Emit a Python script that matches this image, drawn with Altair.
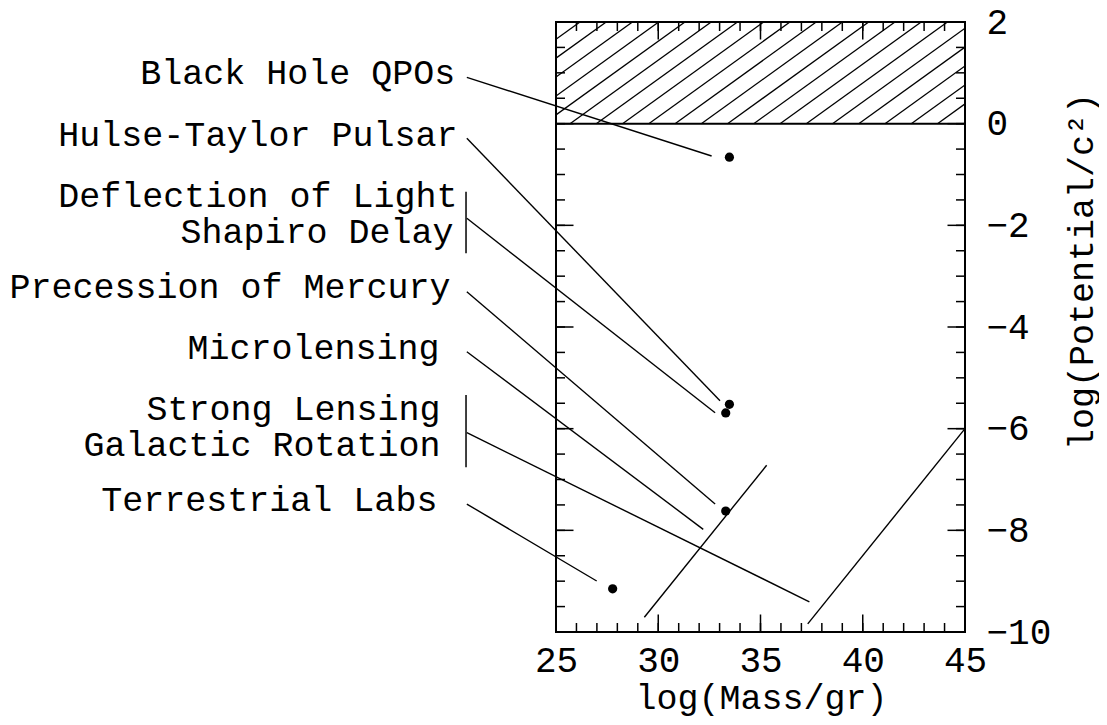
import altair as alt
import numpy as np
import pandas as pd

FONT = "Liberation Mono"
W, H = 409, 610

# ---- data ----
labels = ["Black Hole QPOs", "Hulse-Taylor Pulsar", "Deflection of Light", "Shapiro Delay",
          "Precession of Mercury", "Microlensing", "Strong Lensing", "Galactic Rotation",
          "Terrestrial Labs"]
label_x = [20.08, 20.18, 20.18, 19.99, 19.84, 19.30, 19.35, 19.35, 19.20]
label_y = [0.774, -0.44, -1.634, -2.354, -3.436, -4.636, -5.83, -6.538, -7.614]

pt_mass = [33.48, 33.48, 33.30, 33.30, 27.77]
pt_pot = [-0.66, -5.52, -5.69, -7.62, -9.15]

lead_x1 = [20.64, 20.64, 20.64, 20.64, 20.64, 20.64, 20.64]
lead_y1 = [0.912, -0.288, -1.862, -3.306, -4.486, -6.08, -7.483]
lead_x2 = [32.61, 33.02, 32.78, 32.78, 32.20, 37.39, 26.99]
lead_y2 = [-0.636, -5.45, -5.686, -7.483, -7.98, -9.405, -8.997]

bar_x = [20.60, 20.60]
bar_y1 = [-1.339, -5.338]
bar_y2 = [-2.551, -6.761]

diag_x1 = [29.32, 37.31]
diag_y1 = [-9.71, -9.84]
diag_x2 = [35.30, 45.0]
diag_y2 = [-6.72, -6.0]

excluded_lo, excluded_hi = 0.0, 2.0

x_ticks_major = [25, 30, 35, 40, 45]
x_ticks_minor = list(range(25, 46))
y_ticks_major = [-10, -8, -6, -4, -2, 0, 2]
y_ticks_minor = [v / 2 for v in range(-20, 5)]

# ---- scales ----
xs = alt.Scale(domain=[25, 45], nice=False, zero=False)
ys = alt.Scale(domain=[-10, 2], nice=False, zero=False)

# hatch lines for the excluded region (decoration)
hatch_step = 1.2836
hatch_dx = 6.904
hb = 25.685 + hatch_step * np.arange(-7, 17)
hatch_df = pd.DataFrame({"x1": hb, "y1": excluded_lo, "x2": hb + hatch_dx, "y2": excluded_hi})

pts_df = pd.DataFrame({"m": pt_mass, "p": pt_pot})
lab_df = pd.DataFrame({"label": labels, "lx": label_x, "ly": label_y})
lead_df = pd.DataFrame({"x1": lead_x1, "y1": lead_y1, "x2": lead_x2, "y2": lead_y2})
bar_df = pd.DataFrame({"x1": bar_x, "y1": bar_y1, "y2": bar_y2})
diag_df = pd.DataFrame({"x1": diag_x1, "y1": diag_y1, "x2": diag_x2, "y2": diag_y2})
zero_df = pd.DataFrame({"x1": [25], "x2": [45], "y1": [excluded_lo]})

def seg(df, **kw):
    return alt.Chart(df).mark_rule(color="black", **kw).encode(
        x=alt.X("x1:Q", scale=xs, axis=None),
        y=alt.Y("y1:Q", scale=ys, axis=None),
        x2="x2:Q", y2="y2:Q")

hatch = seg(hatch_df, strokeWidth=1.3, clip=True)
zero_line = alt.Chart(zero_df).mark_rule(color="black", strokeWidth=2).encode(
    x=alt.X("x1:Q", scale=xs, axis=None), x2="x2:Q",
    y=alt.Y("y1:Q", scale=ys, axis=None))
leaders = seg(lead_df, strokeWidth=1.4)
diags = seg(diag_df, strokeWidth=1.4)
bars = alt.Chart(bar_df).mark_rule(color="black", strokeWidth=1.5).encode(
    x=alt.X("x1:Q", scale=xs, axis=None),
    y=alt.Y("y1:Q", scale=ys, axis=None), y2="y2:Q")

MAJ, MIN = 17.5, 9

def xtick(vals, length, top):
    d = pd.DataFrame({"v": vals})
    if top:
        yy, yy2 = alt.value(0), alt.value(length)
    else:
        yy, yy2 = alt.value(H), alt.value(H - length)
    return alt.Chart(d).mark_rule(color="black", strokeWidth=1.5).encode(
        x=alt.X("v:Q", scale=xs, axis=None), y=yy, y2=yy2)

def ytick(vals, length, left):
    d = pd.DataFrame({"v": vals})
    if left:
        xx, xx2 = alt.value(0), alt.value(length)
    else:
        xx, xx2 = alt.value(W), alt.value(W - length)
    return alt.Chart(d).mark_rule(color="black", strokeWidth=1.5).encode(
        y=alt.Y("v:Q", scale=ys, axis=None), x=xx, x2=xx2)

ticks = [xtick(x_ticks_minor, MIN, True), xtick(x_ticks_minor, MIN, False),
         xtick(x_ticks_major, MAJ, True), xtick(x_ticks_major, MAJ, False),
         ytick(y_ticks_minor, MIN, True), ytick(y_ticks_minor, MIN, False),
         ytick(y_ticks_major, MAJ, True), ytick(y_ticks_major, MAJ, False)]

points = alt.Chart(pts_df).mark_circle(size=85, color="black", opacity=1).encode(
    x=alt.X("m:Q", scale=xs,
            axis=alt.Axis(values=x_ticks_major, ticks=False, domain=False, grid=False,
                          labelFont=FONT, labelFontSize=36, labelColor="black",
                          labelBaseline="alphabetic", labelPadding=39, labelFlush=False,
                          labelOverlap=False,
                          title="log(Mass/gr)", titleFont=FONT, titleFontSize=35,
                          titleFontWeight="normal", titleColor="black",
                          titleX=205, titleY=76, titleAlign="center",
                          titleBaseline="alphabetic")),
    y=alt.Y("p:Q", scale=ys,
            axis=alt.Axis(orient="right", values=y_ticks_major, ticks=False, domain=False,
                          grid=False, labelFont=FONT, labelFontSize=36, labelColor="black",
                          labelAlign="left", labelBaseline="middle", labelPadding=21,
                          labelFlush=False, labelOverlap=False,
                          title="log(Potential/c²)", titleFont=FONT, titleFontSize=35,
                          titleFontWeight="normal", titleColor="black", titleAngle=270,
                          titleX=127, titleY=249, titleAlign="center",
                          titleBaseline="alphabetic")),
)

texts = alt.Chart(lab_df).mark_text(align="right", baseline="alphabetic", font=FONT,
                                     fontSize=35, color="black").encode(
    x=alt.X("lx:Q", scale=xs, axis=None),
    y=alt.Y("ly:Q", scale=ys, axis=None),
    text="label:N")

chart = alt.layer(points, hatch, zero_line, *ticks, leaders, bars, diags, texts).resolve_axis(
    x="independent", y="independent"
).properties(
    width=W, height=H,
    autosize=alt.AutoSizeParams(type="none"),
    padding={"left": 548, "top": 14, "right": 134, "bottom": 84},
).configure_view(stroke="black", strokeWidth=2).configure_axis(grid=False)

chart.save("out.html", embed_options={"renderer": "svg", "actions": False})
